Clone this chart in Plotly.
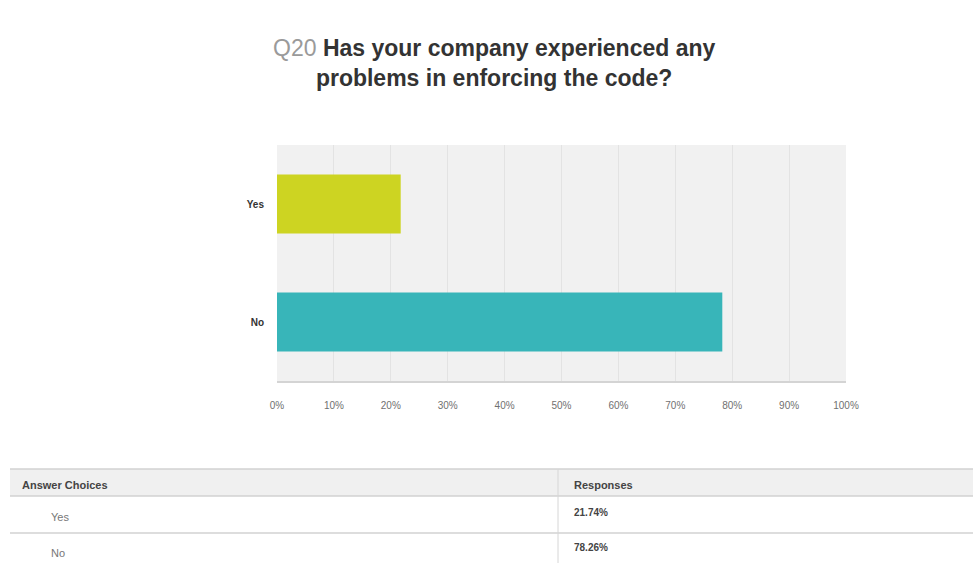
import plotly.graph_objects as go

# Survey answers and their shares (percent)
choices = ["Yes", "No"]
responses = [21.74, 78.26]
bar_colors = ["#cdd422", "#38b5b9"]
x_ticks = [0, 10, 20, 30, 40, 50, 60, 70, 80, 90, 100]
x_tick_labels = [f"{v}%" for v in x_ticks]
table_headers = ["Answer Choices", "Responses"]

W, H = 973, 563
PL, PR, PT, PB = 277, 846, 145, 381  # plot area edges in pixels

fig = go.Figure()

fig.add_trace(go.Bar(
    y=choices,
    x=responses,
    orientation="h",
    marker=dict(color=bar_colors, line=dict(width=0)),
    width=0.5,
    hoverinfo="x+y",
))

fig.update_layout(
    width=W, height=H,
    margin=dict(l=PL, r=W - PR, t=PT, b=H - PB),
    paper_bgcolor="white",
    plot_bgcolor="#f1f1f1",
    showlegend=False,
    font=dict(family="Liberation Sans, Arial, sans-serif"),
    xaxis=dict(
        range=[0, 100], tickvals=x_ticks, ticktext=x_tick_labels,
        showgrid=True, gridcolor="#e3e3e3", gridwidth=1,
        zeroline=False, showline=True, linecolor="#d4d4d4", linewidth=2,
        ticks="", ticklabelstandoff=14,
        tickfont=dict(size=10, color="#707070"), fixedrange=True,
    ),
    yaxis=dict(
        categoryorder="array", categoryarray=choices[::-1],
        showgrid=False, zeroline=False, ticks="", ticklabelstandoff=12,
        tickfont=dict(size=10, color="#333333"),
        fixedrange=True,
    ),
)

# Bold the category labels
fig.update_yaxes(tickvals=choices, ticktext=[f"<b>{c}</b>" for c in choices])


# Helpers: pixel position -> paper fraction (paper spans the plot area)
def px(x):
    return (x - PL) / (PR - PL)


def py(y):
    return (PB - y) / (PB - PT)


# Two-line title with a grey question number
fig.add_annotation(
    xref="paper", yref="paper", x=px(494), y=py(63),
    xanchor="center", yanchor="middle", showarrow=False, align="center",
    text="<span style='color:#9a9a9a'>Q20</span> <b>Has your company experienced any</b><br><b>problems in enforcing the code?</b>",
    font=dict(size=23, color="#333333"),
)

# Summary table beneath the chart
table_left, table_right, col_div = 10, W, 558
header_top, header_bottom = 469, 496
row_divider = 533
row_label_y = [517, 553]
row_value_y = [512, 547]

line_style = dict(color="#d2d2d2", width=1.5)
shapes = [
    dict(type="rect", xref="paper", yref="paper",
         x0=px(table_left), x1=px(table_right), y0=py(header_top), y1=py(header_bottom),
         fillcolor="#f0f0f0", line=dict(width=0), layer="below"),
    dict(type="line", xref="paper", yref="paper",
         x0=px(table_left), x1=px(table_right), y0=py(header_top), y1=py(header_top),
         line=line_style),
    dict(type="line", xref="paper", yref="paper",
         x0=px(table_left), x1=px(table_right), y0=py(header_bottom), y1=py(header_bottom),
         line=line_style),
    dict(type="line", xref="paper", yref="paper",
         x0=px(table_left), x1=px(table_right), y0=py(row_divider), y1=py(row_divider),
         line=line_style),
    dict(type="line", xref="paper", yref="paper",
         x0=px(col_div), x1=px(col_div), y0=py(header_top), y1=py(H),
         line=dict(color="#d6d6d6", width=1)),
]
fig.update_layout(shapes=shapes)

# Header labels
for label, x in zip(table_headers, [20, 572]):
    fig.add_annotation(xref="paper", yref="paper", x=px(x), y=py(485),
                       xanchor="left", yanchor="middle", showarrow=False,
                       text=f"<b>{label}</b>", font=dict(size=11, color="#444444"))

# Row labels and percentages
for c, r, yl, yv in zip(choices, responses, row_label_y, row_value_y):
    fig.add_annotation(xref="paper", yref="paper", x=px(49), y=py(yl),
                       xanchor="left", yanchor="middle", showarrow=False,
                       text=c, font=dict(size=11, color="#777777"))
    fig.add_annotation(xref="paper", yref="paper", x=px(572), y=py(yv),
                       xanchor="left", yanchor="middle", showarrow=False,
                       text=f"<b>{r:.2f}%</b>", font=dict(size=10, color="#444444"))

fig.write_html("out.html")
